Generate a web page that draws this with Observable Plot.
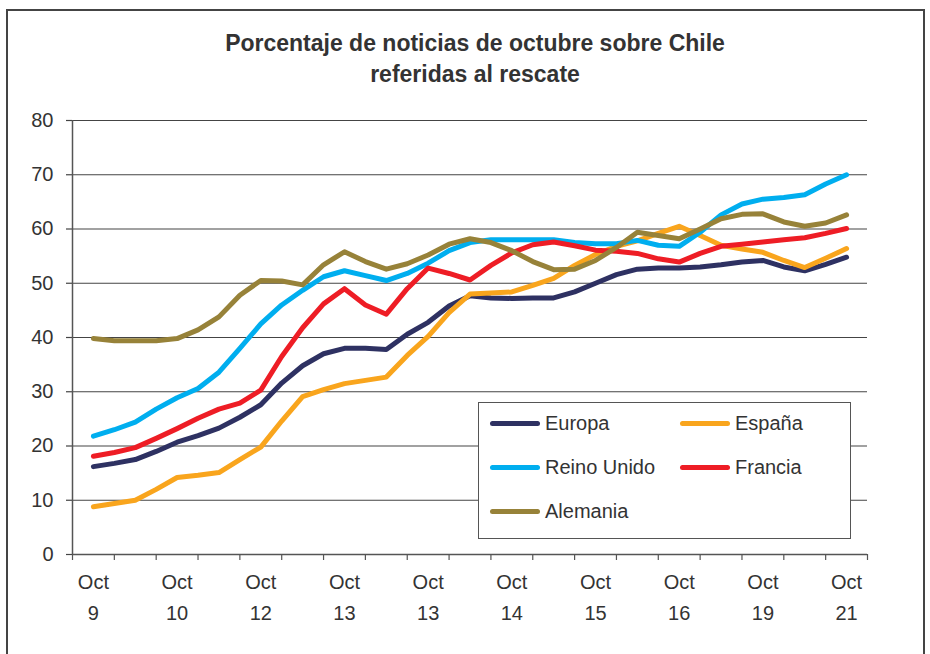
<!DOCTYPE html>
<html>
<head>
<meta charset="utf-8">
<script src="https://cdn.jsdelivr.net/npm/d3@7"></script>
<script src="https://cdn.jsdelivr.net/npm/@observablehq/plot@0.6"></script>
<style>
  html, body { margin: 0; padding: 0; background: #fff; }
  body { font-family: "Liberation Sans", Arial, sans-serif; }
  #wrap { position: relative; width: 930px; height: 654px; overflow: hidden; }
  #frame { position: absolute; left: 6px; top: 9px; width: 919px; height: 700px; border: 2px solid #444; box-sizing: border-box; pointer-events: none; }
  #title { position: absolute; left: 20px; top: 28px; width: 910px; text-align: center; font-weight: bold; font-size: 23px; line-height: 31px; color: #333; }
  #chart { position: absolute; left: 0; top: 100px; }
  #legend { position: absolute; left: 478px; top: 402px; width: 373px; height: 137px; border: 1px solid #555; box-sizing: border-box; background: #fff; }
  .item { position: absolute; display: flex; align-items: center; font-size: 20px; color: #333; height: 24px; }
  .sw { width: 50px; height: 5px; border-radius: 3px; margin-right: 5px; }
</style>
</head>
<body>
<div id="wrap">
  <div id="title">Porcentaje de noticias de octubre sobre Chile<br>referidas al rescate</div>
  <div id="chart"></div>
  <div id="legend"></div>
  <div id="frame"></div>
</div>
<script>
const seriesNames = ["Europa", "España", "Reino Unido", "Francia", "Alemania"];
const seriesColors = ["#2E3162", "#F9A51D", "#00AEEF", "#EE1D25", "#978239"];
const tickMonth = "Oct";
const tickDays = ["9", "10", "12", "13", "13", "14", "15", "16", "19", "21"];
const yTicks = [0, 10, 20, 30, 40, 50, 60, 70, 80];

const europa = [16.2, 16.8, 17.5, 19.0, 20.7, 21.9, 23.3, 25.3, 27.6, 31.6, 34.8, 37.0, 38.0, 38.0, 37.8, 40.6, 42.8, 45.8, 47.7, 47.3, 47.2, 47.3, 47.3, 48.4, 50.0, 51.6, 52.6, 52.8, 52.8, 53.0, 53.4, 53.9, 54.2, 53.0, 52.3, 53.5, 54.8];
const espana = [8.8, 9.4, 10.0, 12.0, 14.2, 14.6, 15.1, 17.5, 19.8, 24.6, 29.1, 30.4, 31.5, 32.1, 32.7, 36.7, 40.2, 44.6, 48.0, 48.2, 48.4, 49.6, 50.9, 53.3, 55.3, 56.8, 57.8, 59.2, 60.5, 58.8, 57.0, 56.3, 55.7, 54.2, 52.9, 54.6, 56.4];
const reinoUnido = [21.8, 23.0, 24.4, 26.8, 28.9, 30.6, 33.6, 38.0, 42.5, 46.0, 48.7, 51.2, 52.3, 51.4, 50.5, 51.8, 53.7, 56.0, 57.5, 58.0, 58.0, 58.0, 58.0, 57.5, 57.3, 57.3, 57.9, 57.0, 56.8, 59.4, 62.6, 64.6, 65.5, 65.8, 66.3, 68.3, 70.0];
const francia = [18.1, 18.8, 19.7, 21.4, 23.2, 25.1, 26.8, 27.9, 30.3, 36.5, 41.8, 46.2, 49.0, 46.0, 44.3, 49.0, 52.8, 51.8, 50.6, 53.3, 55.6, 57.1, 57.6, 56.9, 56.1, 55.9, 55.5, 54.5, 53.9, 55.5, 56.8, 57.2, 57.6, 58.0, 58.4, 59.2, 60.1];
const alemania = [39.8, 39.4, 39.4, 39.4, 39.8, 41.4, 43.8, 47.8, 50.5, 50.4, 49.7, 53.4, 55.8, 54.0, 52.6, 53.6, 55.2, 57.2, 58.2, 57.5, 56.0, 54.0, 52.5, 52.6, 54.2, 56.6, 59.4, 58.8, 58.2, 60.0, 61.9, 62.7, 62.8, 61.3, 60.5, 61.1, 62.6];

const seriesValues = [europa, espana, reinoUnido, francia, alemania];
const data = seriesNames.flatMap((name, s) => seriesValues[s].map((v, i) => ({series: name, i, v})));
const n = europa.length;
const labelIdx = tickDays.map((_, k) => k * 4);
const tickIdx = d3.range(-1, n + 1, 2);

const chart = Plot.plot({
  width: 930,
  height: 554,
  marginLeft: 72,
  marginRight: 63,
  marginTop: 20,
  marginBottom: 100,
  style: {fontFamily: '"Liberation Sans", Arial, sans-serif', color: "#333", background: "transparent"},
  x: {domain: [-1, n], axis: null, label: null},
  y: {domain: [0, 80], axis: null, label: null},
  color: {domain: seriesNames, range: seriesColors},
  marks: [
    Plot.gridY(yTicks.slice(1), {stroke: "#444", strokeOpacity: 1, strokeWidth: 1.2}),
    Plot.axisY(yTicks, {tickSize: 6, tickPadding: 13, fontSize: 20, stroke: "#444", strokeWidth: 1.2, label: null}),
    Plot.ruleX([-1], {stroke: "#555", strokeWidth: 1.5}),
    Plot.ruleY([0], {stroke: "#555", strokeWidth: 1.5}),
    Plot.axisX(tickIdx, {tickSize: 6, tickFormat: () => "", stroke: "#555", strokeWidth: 1.2, label: null}),
    Plot.axisX(labelIdx, {tickSize: 0, tickPadding: 20, fontSize: 20, tickFormat: () => tickMonth, label: null}),
    Plot.axisX(labelIdx, {tickSize: 0, tickPadding: 51, fontSize: 20, tickFormat: d => tickDays[d / 4], label: null}),
    Plot.line(data, {x: "i", y: "v", z: "series", stroke: "series", strokeWidth: 5, strokeLinejoin: "round", strokeLinecap: "round"})
  ]
});
document.getElementById("chart").appendChild(chart);

// legend (two columns, row-major as in the reference)
const legend = document.getElementById("legend");
seriesNames.forEach((name, k) => {
  const col = k % 2, row = Math.floor(k / 2);
  const it = document.createElement("div");
  it.className = "item";
  it.style.left = (11 + col * 190) + "px";
  it.style.top = (8 + row * 44) + "px";
  const sw = document.createElement("div");
  sw.className = "sw";
  sw.style.background = seriesColors[k];
  const tx = document.createElement("span");
  tx.textContent = name;
  it.appendChild(sw); it.appendChild(tx);
  legend.appendChild(it);
});
</script>
</body>
</html>
